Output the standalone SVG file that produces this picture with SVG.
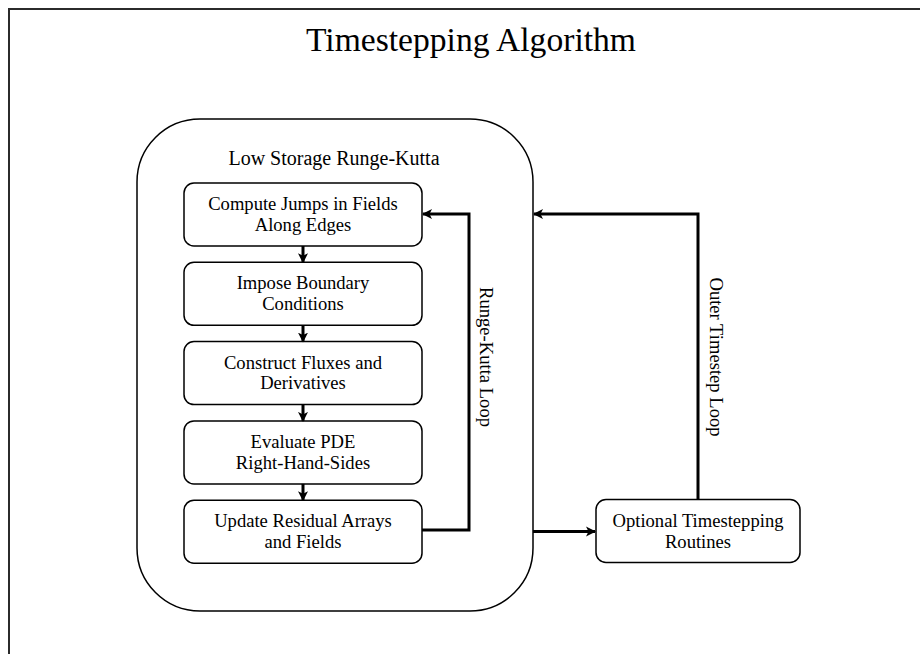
<svg xmlns="http://www.w3.org/2000/svg" width="920" height="654" viewBox="0 0 920 654">
  <defs>
    <style>
      .frame { fill: none; stroke: #2b2b2b; stroke-width: 2; }
      .box { fill: #fff; stroke: #000; stroke-width: 1.5; }
      .conn { fill: none; stroke: #000; stroke-width: 3; }
      .t { font-family: "Liberation Serif", "Times New Roman", serif; font-size: 18.6px; fill: #000; text-anchor: middle; }
      .title { font-family: "Liberation Serif", "Times New Roman", serif; font-size: 33.6px; fill: #000; text-anchor: middle; }
      .group { font-family: "Liberation Serif", "Times New Roman", serif; font-size: 20px; fill: #000; text-anchor: middle; }
    </style>
    <marker id="arrow" viewBox="0 0 10 10" refX="9" refY="5" markerWidth="10" markerHeight="11" markerUnits="userSpaceOnUse" orient="auto">
      <path d="M0,0 L10,5 L0,10 L2.5,5 z" fill="#000"/>
    </marker>
  </defs>
  <rect width="920" height="654" fill="#fff"/>
  <rect class="frame" x="9" y="9" width="1000" height="700"/>
  <text class="title" x="471" y="51">Timestepping Algorithm</text>

  <g id="lsrk">
    <rect class="box" x="137" y="119" width="396" height="492" rx="63" ry="63"/>
    <text class="group" x="334" y="165">Low Storage Runge-Kutta</text>
  </g>

  <g id="jumps">
    <rect class="box" x="184" y="183" width="238" height="63" rx="10" ry="10"/>
    <text class="t" x="303" y="210">Compute Jumps in Fields</text>
    <text class="t" x="303" y="230.7">Along Edges</text>
  </g>
  <g id="boundary">
    <rect class="box" x="184" y="262.3" width="238" height="63" rx="10" ry="10"/>
    <text class="t" x="303" y="289.3">Impose Boundary</text>
    <text class="t" x="303" y="310">Conditions</text>
  </g>
  <g id="fluxes">
    <rect class="box" x="184" y="341.6" width="238" height="63" rx="10" ry="10"/>
    <text class="t" x="303" y="368.6">Construct Fluxes and</text>
    <text class="t" x="303" y="389.3">Derivatives</text>
  </g>
  <g id="rhs">
    <rect class="box" x="184" y="420.9" width="238" height="63" rx="10" ry="10"/>
    <text class="t" x="303" y="447.9">Evaluate PDE</text>
    <text class="t" x="303" y="468.6">Right-Hand-Sides</text>
  </g>
  <g id="update">
    <rect class="box" x="184" y="500.2" width="238" height="63" rx="10" ry="10"/>
    <text class="t" x="303" y="527.2">Update Residual Arrays</text>
    <text class="t" x="303" y="547.9">and Fields</text>
  </g>
  <g id="optional">
    <rect class="box" x="596" y="499.5" width="204" height="63" rx="10" ry="10"/>
    <text class="t" x="698" y="526.7">Optional Timestepping</text>
    <text class="t" x="698" y="548">Routines</text>
  </g>

  <g id="connectors">
    <line class="conn" x1="303" y1="246" x2="303" y2="262.3" marker-end="url(#arrow)"/>
    <line class="conn" x1="303" y1="325.3" x2="303" y2="341.6" marker-end="url(#arrow)"/>
    <line class="conn" x1="303" y1="404.6" x2="303" y2="420.9" marker-end="url(#arrow)"/>
    <line class="conn" x1="303" y1="483.9" x2="303" y2="500.2" marker-end="url(#arrow)"/>
    <polyline class="conn" points="422,530 469,530 469,214 423,214" marker-end="url(#arrow)"/>
    <polyline class="conn" points="698,499.5 698,214 534,214" marker-end="url(#arrow)"/>
    <line class="conn" x1="533" y1="531.5" x2="595" y2="531.5" marker-end="url(#arrow)"/>
    <text class="t" transform="translate(479.5,357) rotate(90)" x="0" y="0">Runge-Kutta Loop</text>
    <text class="t" transform="translate(709.5,357) rotate(90)" x="0" y="0">Outer Timestep Loop</text>
  </g>
</svg>
